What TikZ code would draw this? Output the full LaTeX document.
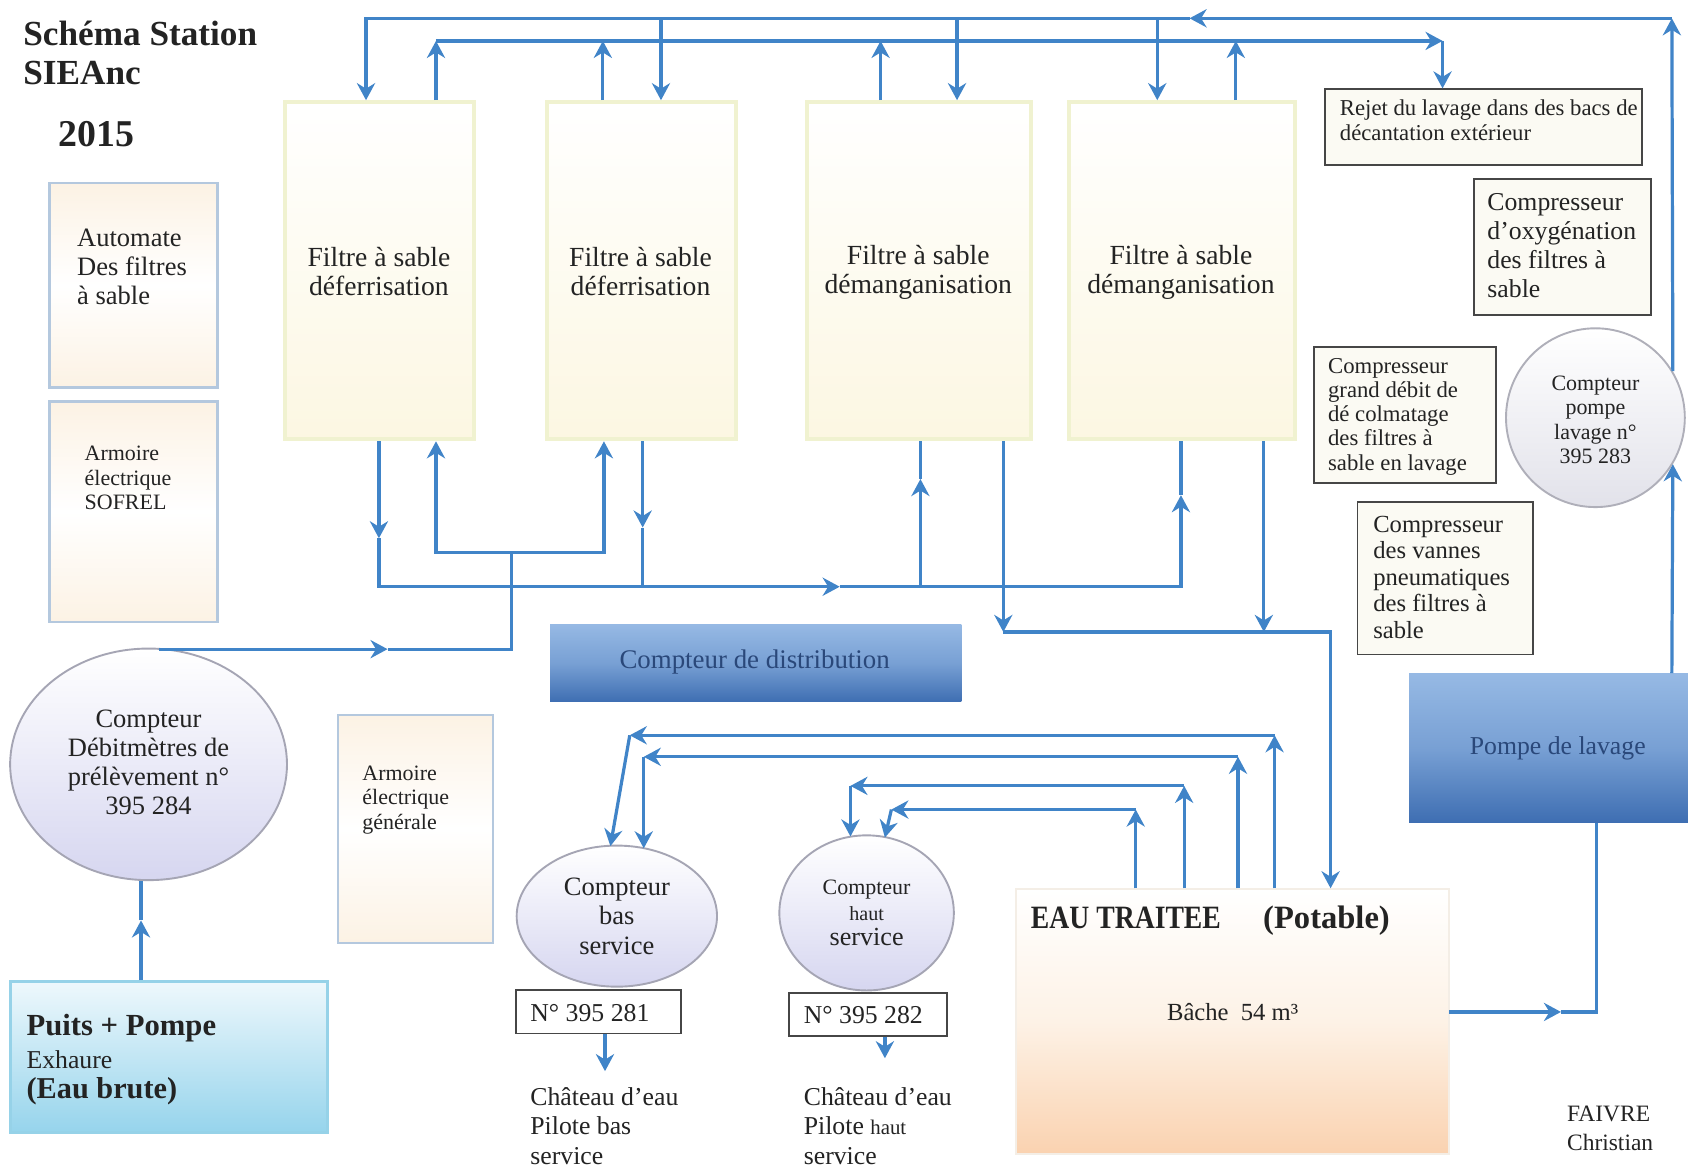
\documentclass[tikz,border=0pt]{standalone}
\usepackage{fontspec}
\usepackage{graphicx}
\setmainfont{Liberation Serif}
\usetikzlibrary{arrows.meta,fit,shapes.geometric}
\newcommand\fsz[2]{\fontsize{#1}{#2}\selectfont}
\definecolor{pipeC}{RGB}{64,132,200}
\definecolor{fborder}{RGB}{240,242,208}
\definecolor{fbot}{RGB}{252,247,226}
\definecolor{cream}{RGB}{252,242,228}
\definecolor{gborder}{RGB}{180,200,222}
\definecolor{dk}{RGB}{70,70,70}
\definecolor{txtC}{RGB}{35,35,35}
\definecolor{navy}{RGB}{42,72,122}
\definecolor{peach}{RGB}{250,210,176}
\definecolor{lav}{RGB}{214,214,240}
\begin{document}
\begin{tikzpicture}[x=0.01cm,y=-0.01cm,
  pipe/.style={draw=pipeC,line width=0.85pt},
  arr/.style={pipe,-{Stealth[length=4.5pt,width=4.8pt]}},
  txt/.style={inner sep=0pt,text=txtC},
  filt/.style={draw=fborder,line width=1.1pt,top color=white,bottom color=fbot,inner sep=0pt},
  gbox/.style={draw=gborder,line width=0.6pt,top color=cream,bottom color=cream,middle color=white,inner sep=0pt},
  nbox/.style={draw=dk,line width=0.5pt,fill={rgb,255:red,251;green,250;blue,243},inner sep=0pt},
  nboxw/.style={draw=dk,line width=0.5pt,fill=white,inner sep=0pt},
  circ/.style={circle,draw={rgb,255:red,175;green,175;blue,185},line width=0.5pt,top color=white,bottom color={rgb,255:red,226;green,226;blue,234},inner sep=0pt},
  ell/.style={ellipse,draw={rgb,255:red,165;green,165;blue,180},line width=0.5pt,top color=white,bottom color=lav,inner sep=0pt},
  bluebox/.style={top color={rgb,255:red,150;green,185;blue,228},bottom color={rgb,255:red,62;green,110;blue,178},middle color={rgb,255:red,120;green,160;blue,212},inner sep=0pt},
  pbox/.style={draw={rgb,255:red,150;green,210;blue,232},line width=0.8pt,top color={rgb,255:red,238;green,248;blue,252},bottom color={rgb,255:red,150;green,212;blue,236},inner sep=0pt},
  eaubox/.style={draw={rgb,255:red,244;green,238;blue,230},line width=0.5pt,top color=white,bottom color=peach,middle color={rgb,255:red,253;green,242;blue,230},inner sep=0pt}
]
\useasboundingbox (0,0) rectangle (1568,1084);
\fill[white] (0,0) rectangle (1568,1084);

% titles
\node[txt,anchor=west,font=\bfseries\fsz{9.3}{11}] (title1) at (21,31) {Schéma Station};
\node[txt,anchor=west,font=\bfseries\fsz{9.3}{11}] (title2) at (21,68) {SIEAnc};
\node[txt,anchor=west,font=\bfseries\fsz{10}{12}] (year) at (54,125) {2015};

% left boxes
\node[gbox,fit={(46,170)(202,360)}] (auto) {};
\node[txt,anchor=west,align=left,font=\fsz{7}{7.7}] (autoT) at (71,248) {Automate\\Des filtres\\à sable};
\node[gbox,fit={(46,373)(202,578)}] (sof) {};
\node[txt,anchor=west,align=left,font=\fsz{5.8}{6.4}] (sofT) at (78,444) {Armoire\\électrique\\SOFREL};

% filters
\node[filt,fit={(265,95)(440,408)}] (f1) {};
\node[txt,align=center,font=\fsz{7.3}{7.6}] (f1T) at (352,252) {Filtre à sable\\déferrisation};
\node[filt,fit={(508,95)(684,408)}] (f2) {};
\node[txt,align=center,font=\fsz{7.3}{7.6}] (f2T) at (595,252) {Filtre à sable\\déferrisation};
\node[filt,fit={(750,95)(958,408)}] (f3) {};
\node[txt,align=center,font=\fsz{7.3}{7.6}] (f3T) at (853,253) {Filtre à sable\\démanganisation};
\node[filt,fit={(993,95)(1203,408)}] (f4) {};
\node[txt,align=center,font=\fsz{7.3}{7.6}] (f4T) at (1097,253) {Filtre à sable\\démanganisation};

% right column
\node[nbox,fit={(1231,83)(1525,153)}] (rj) {};
\node[txt,anchor=west,align=left,font=\fsz{6}{6.6}] (rjT) at (1244,112) {Rejet du lavage dans des bacs de\\décantation extérieur};
\node[nbox,fit={(1369,166)(1534,293)}] (cox) {};
\node[txt,anchor=west,align=left,font=\fsz{6.8}{7.6}] (coxT) at (1381,228) {Compresseur\\d’oxygénation\\des filtres à\\sable};
\node[nbox,fit={(1221,322)(1390,449)}] (cgd) {};
\node[txt,anchor=west,align=left,font=\fsz{6}{6.4}] (cgdT) at (1233,387) {Compresseur\\grand débit de\\dé colmatage\\des filtres à\\sable en lavage};
\node[circ,minimum size=1.66cm] (cpl) at (1482,388) {};
\node[txt,align=center,font=\fsz{5.8}{6.5}] (cplT) at (1482,390) {Compteur\\pompe\\lavage n°\\395 283};
\node[nbox,fit={(1261,466)(1424,608)}] (cvp) {};
\node[txt,anchor=west,align=left,font=\fsz{6.5}{7}] (cvpT) at (1275,536) {Compresseur\\des vannes\\pneumatiques\\des filtres à\\sable};
\node[bluebox,fit={(1309,626)(1568,764)}] (pl) {};
\node[txt,text=navy,font=\fsz{6.8}{8}] (plT) at (1447,695) {Pompe de lavage};

% middle
\node[bluebox,fit={(511,580)(893,652)}] (cdist) {};
\node[txt,text=navy,font=\fsz{7.1}{8}] (cdistT) at (701,615) {Compteur de distribution};
\node[ell,minimum width=2.57cm,minimum height=2.15cm] (cd) at (138,710) {};
\node[txt,align=center,font=\fsz{7}{7.7}] (cdT) at (138,708) {Compteur\\Débitmètres de\\prélèvement n°\\395 284};
\node[gbox,fit={(314,664)(458,876)}] (ag) {};
\node[txt,anchor=west,align=left,font=\fsz{5.8}{6.5}] (agT) at (336,743) {Armoire\\électrique\\générale};
\node[pbox,fit={(10,912)(304,1052)}] (pu) {};
\node[txt,anchor=west,font=\bfseries\fsz{8.1}{9}] (pu1) at (24,955) {Puits + Pompe};
\node[txt,anchor=west,font=\fsz{6.8}{8}] (pu2) at (24,984) {Exhaure};
\node[txt,anchor=west,font=\bfseries\fsz{8}{9}] (pu3) at (24,1014) {(Eau brute)};

% bas service
\node[ell,minimum width=1.86cm,minimum height=1.31cm] (cbs) at (573,851) {};
\node[txt,align=center,font=\fsz{7}{7.8}] (cbsT) at (573,851) {Compteur\\bas\\service};
\node[nboxw,fit={(479,920)(633,960)}] (n1) {};
\node[txt,anchor=west,font=\fsz{6.8}{8}] (n1T) at (492,941) {N° 395 281};
\node[txt,anchor=west,align=left,font=\fsz{6.8}{7.7}] (ch1) at (492,1046) {Château d’eau\\Pilote bas\\service};

% haut service
\node[ell,minimum width=1.62cm,minimum height=1.44cm] (chs) at (805,848) {};
\node[txt,align=center,font=\fsz{5.8}{6.7}] (chsT) at (805,848) {Compteur\\{\fsz{5.3}{6.7}haut}\\{\fsz{6.9}{7.2}service}};
\node[nboxw,fit={(733,922)(880,962)}] (n2) {};
\node[txt,anchor=west,font=\fsz{6.8}{8}] (n2T) at (746,943) {N° 395 282};
\node[txt,anchor=west,align=left,font=\fsz{6.8}{7.7}] (ch2) at (746,1046) {Château d’eau\\Pilote {\fsz{5.5}{7.7}haut}\\service};

% eau traitee
\node[eaubox,fit={(944,826)(1346,1072)}] (eau) {};
\node[txt,anchor=west,font=\bfseries\fsz{8.6}{10}] (eauT) at (957,855) {\scalebox{0.85}[1]{EAU TRAITEE}\hspace{1.3em}(Potable)};
\node[txt,font=\fsz{6.5}{8}] (bache) at (1145,940) {Bâche\ \ 54 m³};
\node[txt,anchor=west,align=left,font=\fsz{6.2}{7.7}] (auth) at (1455,1048) {FAIVRE\\Christian};

% ---------- connectors ----------
% top line A (washing water to filters)
\coordinate (aTR) at (1553,17);
\coordinate (aM) at (1105,17);
\coordinate (aL) at (340,17);
\coordinate (a2) at (614,17);
\coordinate (a3) at (889,17);
\coordinate (a4) at (1075,17);
\draw[arr] (pl.north -| aTR) -- (cpl.-31);
\draw[arr] (cpl.31) -- (aTR);
\draw[arr] (aTR) -- (aM);
\draw[arr] (aM) -- (aL) -- (aL |- f1.north);
\draw[arr] (a2) -- (a2 |- f2.north);
\draw[arr] (a3) -- (a3 |- f3.north);
\draw[arr] (a4) -- (a4 |- f4.north);

% top line B (rejet)
\coordinate (b1) at (405,38);
\coordinate (b2) at (560,38);
\coordinate (b3) at (818,38);
\coordinate (b4) at (1148,38);
\coordinate (bR) at (1340,38);
\draw[arr] (b1 |- f1.north) -- (b1);
\draw[arr] (b1) -- (bR);
\draw[arr] (bR) -- (bR |- rj.north);
\draw[arr] (b2 |- f2.north) -- (b2);
\draw[arr] (b3 |- f3.north) -- (b3);
\draw[arr] (b4 |- f4.north) -- (b4);

% line C (deferrisation -> demanganisation)
\coordinate (c1) at (352,500);
\coordinate (c1b) at (352,545);
\coordinate (cM) at (780,545);
\coordinate (c4) at (1097,545);
\coordinate (c4a) at (1097,460);
\coordinate (c2) at (597,490);
\coordinate (c2b) at (597,545);
\coordinate (c3) at (855,545);
\coordinate (c3a) at (855,445);
\draw[arr] (c1 |- f1.south) -- (c1);
\draw[arr] (c1) -- (c1b) -- (cM);
\draw[arr] (cM) -- (c4) -- (c4a);
\draw[pipe] (c4a) -- (c4a |- f4.south);
\draw[arr] (c2 |- f2.south) -- (c2);
\draw[pipe] (c2) -- (c2b);
\draw[arr] (c3) -- (c3a);
\draw[pipe] (c3a) -- (c3a |- f3.south);

% raw water line D
\coordinate (d0) at (148,603);
\coordinate (dM) at (360,603);
\coordinate (dJ) at (475,603);
\coordinate (dK) at (475,513);
\coordinate (dL) at (405,513);
\coordinate (dR) at (561,513);
\draw[arr] (d0) -- (dM);
\draw[pipe] (dM) -- (dJ) -- (dK);
\draw[arr] (dK) -- (dL) -- (dL |- f1.south);
\draw[arr] (dK) -- (dR) -- (dR |- f2.south);

% line E (to eau traitee)
\coordinate (e0) at (932,587);
\coordinate (eR) at (1236,587);
\coordinate (e4) at (1174,587);
\draw[arr] (e0 |- f3.south) -- (e0);
\draw[arr] (e0) -- (eR) -- (eR |- eau.north);
\draw[arr] (e4 |- f4.south) -- (e4);

% outputs of eau traitee
\coordinate (g1a) at (1184,683);
\coordinate (g1b) at (585,683);
\coordinate (g1c) at (567,786);
\coordinate (g2a) at (1150,703);
\coordinate (g2b) at (598,703);
\coordinate (g2c) at (598,788);
\coordinate (g3a) at (1100,730);
\coordinate (g3b) at (790,730);
\coordinate (g3c) at (790,777);
\coordinate (g4a) at (1055,752);
\coordinate (g4b) at (828,752);
\coordinate (g4c) at (822,778);
\draw[arr] (g1a |- eau.north) -- (g1a);
\draw[arr] (g1a) -- (g1b);
\draw[arr] (g1b) -- (g1c);
\draw[arr] (g2a |- eau.north) -- (g2a);
\draw[arr] (g2a) -- (g2b);
\draw[arr] (g2b) -- (g2c);
\draw[arr] (g3a |- eau.north) -- (g3a);
\draw[arr] (g3a) -- (g3b);
\draw[arr] (g3b) -- (g3c);
\draw[arr] (g4a |- eau.north) -- (g4a);
\draw[arr] (g4a) -- (g4b);
\draw[arr] (g4b) -- (g4c);

% eau -> pompe de lavage
\coordinate (h0) at (1346,940);
\coordinate (hM) at (1450,940);
\coordinate (hC) at (1483,940);
\draw[arr] (h0) -- (hM);
\draw[pipe] (hM) -- (hC) -- (hC |- pl.south);

% puits -> debitmetre
\coordinate (p0) at (131,855);
\draw[arr] (p0 |- pu.north) -- (p0);
\draw[pipe] (p0) -- (p0 |- cd.south);

% meters -> water towers
\coordinate (k1) at (562,995);
\coordinate (k2) at (822,983);
\draw[arr] (k1 |- n1.south) -- (k1);
\draw[arr] (k2 |- n2.south) -- (k2);
\end{tikzpicture}
\end{document}
